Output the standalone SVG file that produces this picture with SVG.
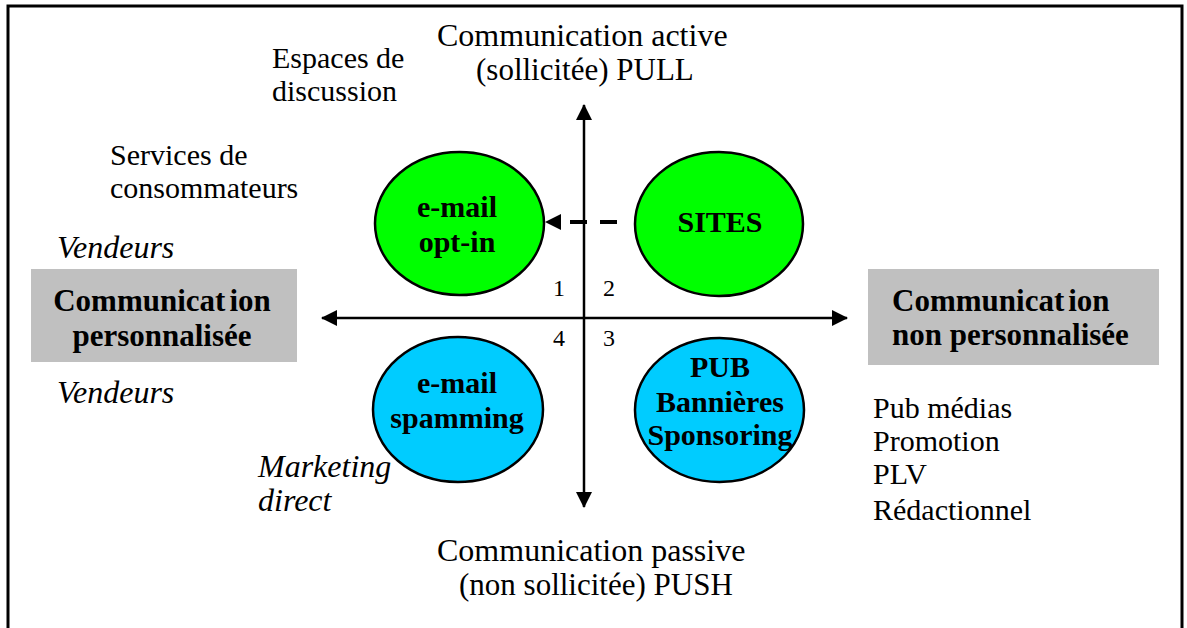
<svg xmlns="http://www.w3.org/2000/svg" width="1187" height="628" viewBox="0 0 1187 628">
  <style>
    text { font-family: "Liberation Serif", "DejaVu Serif", serif; fill: #000; }
    .txt { font-size: 30px; }
    .axis-label { font-size: 31px; }
    .axis-head { font-size: 32px; }
    .it { font-style: italic; font-size: 32px; }
    .node-text { font-weight: bold; font-size: 30px; text-anchor: middle; }
    .box-text { font-weight: bold; font-size: 31px; }
    .green { fill: #00FF00; stroke: #000; stroke-width: 2.5; }
    .blue { fill: #00CCFF; stroke: #000; stroke-width: 2.5; }
    .box { fill: #C0C0C0; }
    .axis { stroke: #000; stroke-width: 2.5; fill: none; }
    .dash { stroke: #000; stroke-width: 4; stroke-dasharray: 17 13; fill: none; }
    .num { font-size: 24px; text-anchor: middle; }
  </style>
  <defs>
    <marker id="arrow" viewBox="0 0 16 16" refX="15" refY="8" markerWidth="16" markerHeight="16" markerUnits="userSpaceOnUse" orient="auto">
      <path d="M0,0 L16,8 L0,16 Z" fill="#000"/>
    </marker>
  </defs>

  <rect width="1187" height="628" fill="#fff"/>

  <!-- outer frame, open at the bottom -->
  <path d="M8,628 L8,6 L1182,6 L1182,628" fill="none" stroke="#000" stroke-width="3"/>

  <!-- axes and the dashed link -->
  <g id="connectors">
    <line class="axis" x1="584" y1="318" x2="584" y2="105" marker-end="url(#arrow)"/>
    <line class="axis" x1="584" y1="318" x2="584" y2="507" marker-end="url(#arrow)"/>
    <line class="axis" x1="584" y1="318" x2="322" y2="318" marker-end="url(#arrow)"/>
    <line class="axis" x1="584" y1="318" x2="847" y2="318" marker-end="url(#arrow)"/>
    <line class="dash" x1="617" y1="222" x2="560" y2="222"/>
    <polygon points="545,222 561,214 561,230" fill="#000"/>
  </g>

  <!-- axis labels -->
  <g id="label-pull">
    <text class="txt axis-head" x="437" y="46">Communication active</text>
    <text class="txt axis-label" x="476" y="80">(sollicitée) PULL</text>
  </g>
  <g id="label-push">
    <text class="txt axis-head" x="437" y="561">Communication passive</text>
    <text class="txt axis-label" x="459" y="595">(non sollicitée) PUSH</text>
  </g>

  <!-- quadrant numbers -->
  <g id="quadrant-numbers">
    <text class="num" x="559" y="296">1</text>
    <text class="num" x="609" y="296">2</text>
    <text class="num" x="609" y="346">3</text>
    <text class="num" x="559" y="346">4</text>
  </g>

  <!-- side boxes -->
  <g id="box-personnalisee">
    <rect class="box" x="31" y="269" width="266" height="93"/>
    <text class="box-text" x="162" y="311" text-anchor="middle">Communicat<tspan dx="4">ion</tspan></text>
    <text class="box-text" x="162" y="346" text-anchor="middle">personnalisée</text>
  </g>
  <g id="box-non-personnalisee">
    <rect class="box" x="868" y="269" width="291" height="96"/>
    <text class="box-text" x="892" y="311">Communicat<tspan dx="4">ion</tspan></text>
    <text class="box-text" x="892" y="345">non personnalisée</text>
  </g>

  <!-- quadrant ellipses -->
  <g id="node-optin">
    <ellipse class="green" cx="459.5" cy="223.5" rx="84.5" ry="71.5"/>
    <text class="node-text" x="457" y="217">e-mail</text>
    <text class="node-text" x="457" y="252">opt-in</text>
  </g>
  <g id="node-sites">
    <ellipse class="green" cx="719" cy="224" rx="84" ry="72"/>
    <text class="node-text" x="720" y="232">SITES</text>
  </g>
  <g id="node-spamming">
    <ellipse class="blue" cx="458" cy="409.5" rx="85" ry="72.5"/>
    <text class="node-text" x="457" y="393">e-mail</text>
    <text class="node-text" x="457" y="428">spamming</text>
  </g>
  <g id="node-pub">
    <ellipse class="blue" cx="719.5" cy="410" rx="84.5" ry="72"/>
    <text class="node-text" x="720" y="377">PUB</text>
    <text class="node-text" x="720" y="412">Bannières</text>
    <text class="node-text" x="720" y="445">Sponsoring</text>
  </g>

  <!-- annotations -->
  <g id="note-espaces">
    <text class="txt" x="272" y="68">Espaces de</text>
    <text class="txt" x="272" y="101">discussion</text>
  </g>
  <g id="note-services">
    <text class="txt" x="110" y="165" font-size="29.5">Services de</text>
    <text class="txt" x="110" y="198" font-size="29.5">consommateurs</text>
  </g>
  <g id="note-vendeurs-top">
    <text class="txt it" x="57" y="258">Vendeurs</text>
  </g>
  <g id="note-vendeurs-bottom">
    <text class="txt it" x="57" y="403">Vendeurs</text>
  </g>
  <g id="note-marketing">
    <text class="txt it" x="258" y="477">Marketing</text>
    <text class="txt it" x="258" y="511">direct</text>
  </g>
  <g id="note-media">
    <text class="txt" x="873" y="418">Pub médias</text>
    <text class="txt" x="873" y="451">Promotion</text>
    <text class="txt" x="873" y="484">PLV</text>
    <text class="txt" x="873" y="520">Rédactionnel</text>
  </g>
</svg>
